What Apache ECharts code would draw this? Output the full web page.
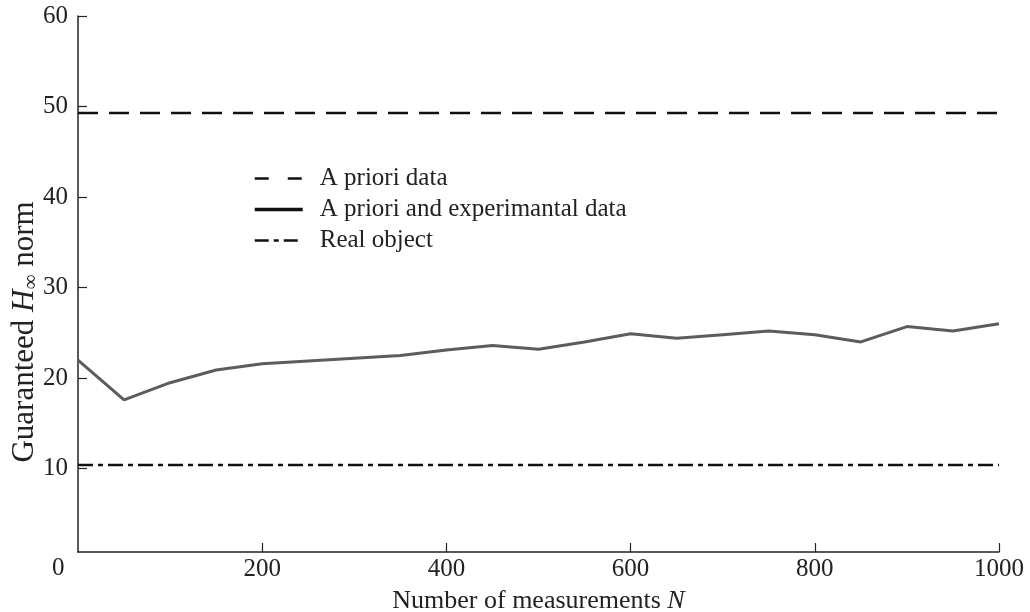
<!DOCTYPE html>
<html>
<head>
<meta charset="utf-8">
<script src="https://cdn.jsdelivr.net/npm/echarts@6/dist/echarts.min.js"></script>
<style>
  html, body { margin: 0; padding: 0; background: #fff; }
  #main { width: 1030px; height: 612px; }
</style>
</head>
<body>
<div id="main"></div>
<script>
// data
var measurementsN = [0, 50, 100, 150, 200, 250, 300, 350, 400, 450, 500, 550, 600, 650, 700, 750, 800, 850, 900, 950, 1000];
var guaranteedNorm = [22.0, 17.6, 19.5, 20.9, 21.6, 21.9, 22.2, 22.5, 23.1, 23.6, 23.2, 24.0, 24.9, 24.4, 24.8, 25.2, 24.8, 24.0, 25.7, 25.2, 26.0];
var lineEndsN = [0, 1000];
var aprioriNorm = [49.3, 49.3];
var realObjectNorm = [10.4, 10.4];
var xTicks = [200, 400, 600, 800, 1000];
var yTicks = [10, 20, 30, 40, 50, 60];

var serif = '"Liberation Serif", "DejaVu Serif", serif';

function pairs(xs, ys) {
  return xs.map(function (x, i) { return [x, ys[i]]; });
}

var chart = echarts.init(document.getElementById('main'));

var option = {
  animation: false,
  backgroundColor: '#fff',
  grid: { left: 78, right: 31, top: 16, bottom: 60, outerBoundsMode: 'none', containLabel: false },
  legend: {
    orient: 'vertical',
    left: 253,
    top: 166,
    padding: 0,
    itemWidth: 48,
    itemHeight: 14,
    itemGap: 6,
    itemStyle: { color: 'rgba(0,0,0,0)', borderWidth: 0, opacity: 0 },
    textStyle: { fontFamily: serif, fontSize: 25, color: '#222', padding: [0, 0, 0, 12] },
    data: [
      { name: 'A priori data', lineStyle: { color: '#111', width: 2.5, type: [14, 19] } },
      { name: 'A priori and experimantal data', lineStyle: { color: '#111', width: 3.5, type: 'solid' } },
      { name: 'Real object', lineStyle: { color: '#111', width: 2.5, type: [14, 5, 5, 5] } }
    ]
  },
  xAxis: {
    type: 'value',
    min: 0,
    max: 1000,
    interval: 200,
    name: '{t|Number of measurements }{i|N}',
    nameLocation: 'middle',
    nameGap: 36,
    nameTextStyle: {
      rich: {
        t: { fontFamily: serif, fontSize: 26, color: '#222' },
        i: { fontFamily: serif, fontSize: 26, color: '#222', fontStyle: 'italic' }
      }
    },
    axisLine: { lineStyle: { color: '#222', width: 1.5 } },
    axisTick: { inside: true, length: 9, lineStyle: { color: '#222', width: 1.2 }, customValues: xTicks },
    axisLabel: {
      customValues: xTicks,
      formatter: function (v) { return String(v); },
      fontFamily: serif, fontSize: 25, color: '#222', margin: 5
    },
    splitLine: { show: false }
  },
  yAxis: {
    type: 'value',
    min: 0.8,
    max: 60,
    axisLine: { show: true, onZero: false, lineStyle: { color: '#222', width: 1.5 } },
    axisTick: { show: true, inside: true, length: 9, lineStyle: { color: '#222', width: 1.2 }, customValues: yTicks },
    axisLabel: { customValues: yTicks, fontFamily: serif, fontSize: 25, color: '#222', margin: 10 },
    splitLine: { show: false }
  },
  graphic: [
    {
      type: 'text',
      left: 52,
      top: 556,
      style: { text: '0', font: '25px ' + serif, fill: '#222' }
    },
    {
      type: 'text',
      x: 25,
      y: 332,
      rotation: Math.PI / 2,
      style: {
        text: '{t|Guaranteed }{i|H}{s|∞}{t| norm}',
        align: 'center',
        verticalAlign: 'middle',
        rich: {
          t: { fontFamily: serif, fontSize: 31, fill: '#222' },
          i: { fontFamily: serif, fontSize: 31, fill: '#222', fontStyle: 'italic' },
          s: { fontFamily: serif, fontSize: 21, fill: '#222', verticalAlign: 'bottom', padding: [12, 0, 0, 0] }
        }
      }
    }
  ],
  series: [
    {
      name: 'A priori data',
      type: 'line',
      symbol: 'none',
      data: pairs(lineEndsN, aprioriNorm),
      itemStyle: { color: '#111' },
      lineStyle: { color: '#111', width: 2.5, type: [20, 11] }
    },
    {
      name: 'A priori and experimantal data',
      type: 'line',
      symbol: 'none',
      data: pairs(measurementsN, guaranteedNorm),
      itemStyle: { color: '#5a5d5e' },
      lineStyle: { color: '#5a5d5e', width: 3 }
    },
    {
      name: 'Real object',
      type: 'line',
      symbol: 'none',
      data: pairs(lineEndsN, realObjectNorm),
      itemStyle: { color: '#111' },
      lineStyle: { color: '#111', width: 2.5, type: [15, 5, 5, 5] }
    }
  ]
};

chart.setOption(option);
</script>
</body>
</html>
